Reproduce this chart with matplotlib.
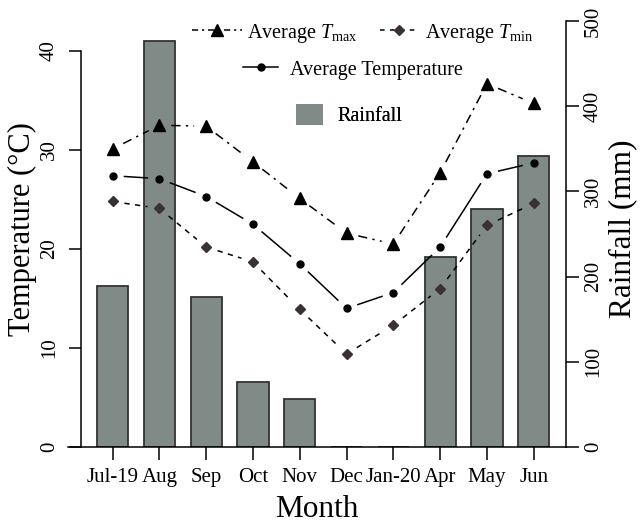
import numpy as np
import matplotlib
matplotlib.use('Agg')
import matplotlib.pyplot as plt
from matplotlib.lines import Line2D
from matplotlib.patches import Patch

plt.rcParams['font.family'] = ['Liberation Serif', 'DejaVu Serif']
plt.rcParams['mathtext.fontset'] = 'custom'
plt.rcParams['mathtext.rm'] = 'Liberation Serif'
plt.rcParams['mathtext.it'] = 'Liberation Serif:italic'

months = ['Jul-19', 'Aug', 'Sep', 'Oct', 'Nov', 'Dec', 'Jan-20', 'Apr', 'May', 'Jun']
rainfall = [189, 476, 176, 76, 56, 0, 0, 223, 279, 342]
t_max = [30.1, 32.5, 32.4, 28.8, 25.1, 21.6, 20.5, 27.7, 36.7, 34.7]
t_avg = [27.4, 27.1, 25.3, 22.5, 18.5, 14.0, 15.6, 20.2, 27.6, 28.7]
t_min = [24.8, 24.1, 20.2, 18.7, 13.9, 9.4, 12.3, 16.0, 22.4, 24.6]

bar_col = '#808a86'
edge_col = '#333333'
dia_col = '#3a3232'

fig = plt.figure(figsize=(6.41, 5.28), dpi=100)
ax = fig.add_axes([0.1061, 0.1534, 0.7770, 0.8258])
ax2 = ax.twinx()
ax.set_zorder(ax2.get_zorder() + 1)
ax.patch.set_visible(False)

x = np.arange(len(months))
ax.set_xlim(-0.951, 9.69)
ax.set_ylim(0, 44.04)
ax2.set_ylim(0, 511.7)

ax2.bar(x, rainfall, width=0.667, color=bar_col, edgecolor=edge_col, linewidth=1.3)


def gapped(ax, xs, ys, gap, **kw):
    # R type="b": segments stop short of each point
    tr = ax.transData
    pts = tr.transform(np.column_stack([xs, ys]))
    for p, q in zip(pts[:-1], pts[1:]):
        d = q - p
        u = d / np.hypot(*d)
        seg = tr.inverted().transform([p + u * gap, q - u * gap])
        ax.plot(seg[:, 0], seg[:, 1], color='black', lw=1.1, **kw)


gapped(ax, x, t_max, 12, dashes=(6, 3.5, 1.5, 3.5))
gapped(ax, x, t_avg, 12, linestyle='-')
gapped(ax, x, t_min, 12, dashes=(3.5, 3.5))
ax.plot(x, t_max, '^', color='black', ms=9, ls='none')
ax.plot(x, t_avg, 'o', color='black', ms=5, ls='none')
ax.plot(x, t_min, 'D', color=dia_col, ms=5.5, ls='none')

for a in (ax, ax2):
    for s in a.spines.values():
        s.set_linewidth(1.1)
    a.spines['top'].set_visible(False)
ax.spines['right'].set_visible(False)
ax2.spines['left'].set_visible(False)
ax2.spines['bottom'].set_visible(False)
ax.spines['left'].set_position(('data', -0.673))
ax.spines['left'].set_bounds(0, 40)
ax2.spines['right'].set_bounds(0, 500)

ax.set_xticks(x)
ax.set_xticklabels(months)
ax.set_yticks([0, 10, 20, 30, 40])
ax2.set_yticks([0, 100, 200, 300, 400, 500])
ax.tick_params(axis='x', length=9, width=1.1, labelsize=15, pad=6)
ax.tick_params(axis='y', length=9, width=1.1, labelsize=15, pad=7)
ax2.tick_params(axis='y', length=9, width=1.1, labelsize=15, pad=4)
for lab in ax.get_yticklabels() + ax2.get_yticklabels():
    lab.set_rotation(90)
    lab.set_va('center')

ax.set_xlabel('Month', fontsize=22.5, labelpad=6)
ax.set_ylabel('Temperature (°C)', fontsize=22, labelpad=2)
ax2.set_ylabel('Rainfall (mm)', fontsize=22.5, labelpad=4)

h_max = Line2D([], [], color='black', lw=1.1, dashes=(4, 2.5, 1.5, 2.5), marker='^', ms=9)
h_min = Line2D([], [], color='black', lw=1.1, dashes=(3, 3.5), marker='D', ms=5.5,
               markerfacecolor=dia_col, markeredgecolor=dia_col)
h_avg = Line2D([], [], color='black', lw=1.1, marker='o', ms=5)
h_rain = Patch(facecolor=bar_col, edgecolor='none')

leg_kw = dict(frameon=False, fontsize=14.5, loc='center left', borderpad=0, borderaxespad=0)
entries = [
    (h_max, r'Average $T_{\mathrm{max}}$', 2.5, 1.0, 0.25, (0.249, 0.9495)),
    (h_min, r'Average $T_{\mathrm{min}}$', 1.85, 1.0, 0.4, (0.6265, 0.9495)),
    (h_avg, 'Average Temperature', 1.75, 1.0, 0.6, (0.3514, 0.8647)),
    (h_rain, 'Rainfall', 1.35, 1.25, 0.7, (0.4578, 0.7615)),
]
for h, lab, hl, hh, pad, pos in entries:
    leg = ax.legend([h], [lab], handlelength=hl, handleheight=hh, handletextpad=pad,
                    bbox_to_anchor=pos, **leg_kw)
    ax.add_artist(leg)

fig.savefig('out.png', dpi=100)
